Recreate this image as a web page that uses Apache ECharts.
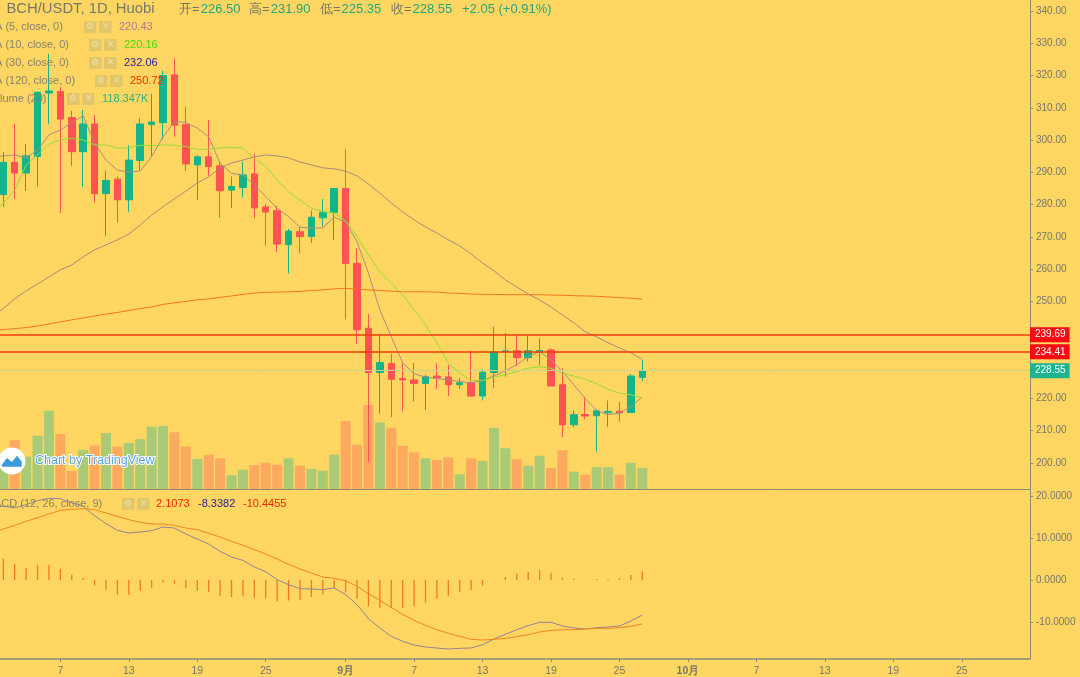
<!DOCTYPE html>
<html>
<head>
<meta charset="utf-8">
<style>
	html, body { margin: 0; padding: 0; background: #FED661; overflow: hidden; }
	#chart { width: 1080px; height: 677px; }
</style>
<script src="https://cdn.jsdelivr.net/npm/echarts@6/dist/echarts.min.js"></script>
</head>
<body>
<div id="chart"></div>
<script>
	// one row per day from 2 Aug: open, close, low, high
	let candles = [
		[283.1,293.1,279.3,296.3],[293.1,289.8,281.8,305],[289.8,295.1,284.2,298.8],[294.9,314.8,285.6,315],
		[314.6,315.2,305,326.7],[315,306.5,277.4,316.4],[307,296.4,292,309.1],[296.4,305,285.4,309.3],
		[305,283.4,280.7,307.8],[283.4,287.5,270.4,290.5],[287.9,281.5,274.5,288.7],[281.5,293.8,277.8,298.4],
		[293.7,305,290.7,306.8],[304.8,305.6,294.9,314.3],[305.4,320,300.2,321.4],[320.2,304.6,301,325.3],
		[304.8,292.6,290.4,310.2],[292.3,294.8,281.5,295.4],[294.8,291.8,288.9,306.2],[292,284.3,276,293.3],
		[284.5,285.6,279,288.7],[285.3,289.2,282.3,293.3],[289.5,279,275.9,295.7],[279.3,277.7,267.3,280.2],
		[278.1,267.8,265.4,279.6],[267.6,271.8,258.7,272.5],[271.6,270.1,264.9,273],[270.1,276.1,268.2,278.1],
		[275.9,277.7,273.2,281.7],[277.6,285,269,285.1],[285,261.8,244.5,297.1],[261.8,241.2,236.9,266.5],
		[241.7,228,200.1,246.1],[228,231.1,215.2,240],[230.8,225.9,214.2,233.8],[226.1,225.7,215.9,230.9],
		[225.7,224.6,219,230.9],[224.6,226.7,216.4,227.3],[226.9,226.3,222.8,230.9],[226.6,224.2,220.7,230.3],
		[224.2,224.8,222.8,226.2],[224.8,220.7,220.5,234.8],[220.7,228.1,219.3,229],[228,234.4,223.3,242.2],
		[234.4,234.7,226.7,240.2],[234.7,232.6,230,239.6],[232.6,234.7,231.4,239.3],[234.4,234.8,230.3,238.6],
		[235,223.8,223.8,235.5],[224.2,211.8,208,229.3],[211.8,214.9,211,216.2],[215,214.5,213.5,220.5],
		[214.6,216.1,203.5,216.6],[215.5,215.9,211.2,219.3],[216,215.5,212.8,218.9],[215.6,226.9,215.4,227.5],
		[226.5,228.55,225.35,231.9]
	];
	// the indicator lists start one day earlier, the lines run off the left edge
	let ma5 = [294.8,295.1,295.4,294.5,296.9,301.6,303.1,305.4,307.5,299.1,293.8,290.7,290.1,290.4,294.9,301,305.7,305.5,303.7,301,292.8,289.7,289.2,286.1,282.5,278.9,276.3,273,272.7,272.8,276.1,274.6,268.5,258.8,247.4,239.1,231,227.6,226.6,226.1,225.7,225.2,224.8,225.5,226.9,228.5,230.4,232.9,234.5,231.9,228.3,224.2,220,216.2,214.9,215.4,217.4,220.43];
	let ma10 = [276.5,280.5,284.5,292.3,295.4,298.8,300,300.6,300,298.5,298.5,297.5,297.6,298.4,298.3,298.5,298.4,298,297,297.2,297.6,297.8,297.5,294.4,291.8,287.6,284,281.4,278.9,277.8,277.4,275,270.1,264.4,259.2,255.7,252,247.4,242.7,237.2,230.9,227.9,225.5,225.5,226.5,227.3,228.3,229.3,229.8,229.3,227.8,226.9,225.9,224.5,222.8,221.6,221.1,220.16];
	let ma30 = [245.3,247.8,250.8,253.3,255.4,257.6,259.8,261.3,263.8,266,267.5,269.1,270.9,273.7,276.8,279.3,281.8,284.2,286.7,288.6,291.4,292.9,293.8,294.8,295.4,295.1,294.5,293.2,292.3,291.4,291.1,290.4,288.9,286.4,283.6,280.5,277.7,275.3,273.1,271.2,269.1,267.2,264.7,261.9,259.5,256.7,254.5,252.3,250.5,248.3,245.8,243.4,240.6,239,237.2,235.6,234.1,232.06];
	let ma120 = [241,241.3,241.6,241.9,242.4,243,243.7,244.3,244.9,245.5,246.1,246.6,247.2,247.8,248.3,249.1,249.6,250,250.5,250.8,251.3,251.7,252.2,252.6,252.8,252.9,253,253.1,253.4,253.6,253.9,254.1,253.8,253.6,253.4,253.2,253,253,253,252.9,252.6,252.5,252.3,252.2,252.2,252.1,252.1,252.1,252.1,252,251.9,251.8,251.7,251.6,251.4,251.2,251,250.72];
	// volume in K
	let volume = [118,205,136,224,329,231,76,164,182,235,178,193,209,262,265,238,178,126,144,129,58,81,100,110,102,129,98,84,77,144,286,186,353,280,257,182,154,129,122,133,62,129,118,257,171,125,98,140,88,163,73,60,92,92,60,110,88];
	let hist = [5.07,3.89,2.86,3.65,3.65,2.7,1.27,0.48,-1.35,-2.3,-3.5,-3.5,-2.54,-1.98,-0.55,-0.87,-1.98,-2.54,-2.94,-3.73,-4.05,-3.89,-4.29,-4.37,-5.08,-4.92,-4.68,-4.05,-3.41,-1.98,-2.94,-4.44,-6.27,-6.59,-6.75,-6.59,-6.27,-5.32,-4.44,-3.73,-2.78,-2.38,-1.35,0,0.71,1.5,1.9,2.38,1.74,0.55,0.32,0.05,0.24,0.24,0.4,1.19,2.11];
	let macd = [17.4,17.54,17.22,17.94,18.89,19.44,19.37,18.33,17.54,15.32,13.41,11.83,11.19,11.43,11.75,12.62,12.38,10.95,9.76,8.57,6.83,5.48,4.68,3.1,1.98,0.08,-1.11,-2.06,-2.14,-2.3,-1.9,-3.49,-5.87,-9.21,-11.43,-13.41,-14.6,-15.48,-15.95,-16.19,-16.43,-16.27,-16.19,-15.4,-14.05,-12.94,-11.83,-10.87,-10.08,-10.08,-10.95,-11.43,-11.67,-11.35,-11.19,-10.95,-9.76,-8.34];
	let signal = [11.2,12.14,13.02,13.97,14.84,15.71,16.59,16.83,16.98,16.75,15.95,15.16,14.37,13.73,13.33,13.33,13.02,12.38,11.98,11.11,10.24,9.21,8.25,7.22,6.19,5,3.73,2.62,1.67,0.71,0.4,-0.16,-1.51,-3.25,-4.84,-6.51,-8.17,-9.6,-10.79,-11.83,-12.7,-13.41,-14.13,-14.29,-14.13,-13.89,-13.49,-13.02,-12.38,-11.98,-11.83,-11.83,-11.67,-11.51,-11.51,-11.35,-11.03,-10.45];

	// tick label for day index (0 = 2 Aug)
	let dayLabels = {5:'7',11:'13',17:'19',23:'25',30:'{b|9月}',36:'7',42:'13',48:'19',54:'25',60:'{b|10月}',66:'7',72:'13',78:'19',84:'25'};
	let axisColor = '#8d8a74';
	let textColor = '#77766a';
	let font = '"Liberation Sans", sans-serif';
	let xMin = -0.29, xMax = 89.98;

	function fromDayBefore(arr) {
		return arr.map((v, i) => [i - 1, v]);
	}
	function lineSeries(name, arr, color, xi, yi) {
		return {
			name: name, type: 'line', data: fromDayBefore(arr), xAxisIndex: xi, yAxisIndex: yi,
			showSymbol: false, silent: true, smooth: false,
			lineStyle: { color: color, width: 1 }, z: 4
		};
	}
	function priceLine(val, lineColor, width, boxColor) {
		return {
			yAxis: val,
			lineStyle: { color: lineColor, width: width, type: 'solid' },
			label: {
				show: true, position: 'end', formatter: val.toFixed(2), distance: 0,
				color: '#fff', fontSize: 10, fontFamily: font, align: 'left', verticalAlign: 'middle',
				padding: [2, 4, 2, 5], lineHeight: 11, backgroundColor: boxColor
			}
		};
	}

	// legend rows and header are plain text on top of the plot
	function txt(x, y, text, color, size, extra) {
		return {
			type: 'text', x: x, y: y, z: 100,
			style: Object.assign({ text: text, fill: color, font: (size || 12) + 'px ' + font, textVerticalAlign: 'middle' }, extra || {})
		};
	}
	function iconBox(x, y) {
		return { type: 'rect', z: 99, shape: { x: x, y: y - 6, width: 12.5, height: 12, r: 1 }, style: { fill: 'rgba(190,180,120,0.45)' } };
	}
	function legendRow(y, labelX, label, ix, valX, val, valColor) {
		return [
			txt(labelX, y, label, '#85836c', 11),
			iconBox(ix, y), txt(ix + 2, y, '⚙', '#ece2a8', 9),
			iconBox(ix + 15, y), txt(ix + 17.5, y, '✕', '#ece2a8', 9),
			txt(valX, y, val, valColor, 11)
		];
	}

	let graphics = [
		txt(6.5, 9, 'BCH/USDT, 1D, Huobi', textColor, 14.8),
		txt(179, 9, '开=', textColor, 13), txt(200.7, 9, '226.50', '#22a67e', 13),
		txt(249, 9, '高=', textColor, 13), txt(270.7, 9, '231.90', '#22a67e', 13),
		txt(320, 9, '低=', textColor, 13), txt(341.5, 9, '225.35', '#22a67e', 13),
		txt(391, 9, '收=', textColor, 13), txt(412.5, 9, '228.55', '#22a67e', 13),
		txt(462, 9, '+2.05 (+0.91%)', '#22a67e', 13),
		...legendRow(27, -5, 'A (5, close, 0)', 84, 119, '220.43', '#b0789c'),
		...legendRow(45, -5, 'A (10, close, 0)', 89, 124, '220.16', '#3fe000'),
		...legendRow(63, -5, 'A (30, close, 0)', 89, 124, '232.06', '#2a1a9a'),
		...legendRow(81, -5, 'A (120, close, 0)', 95, 130, '250.72', '#f03000'),
		...legendRow(99, 0, 'lume (20)', 67, 102, '118.347K', '#2fb27e'),
		...legendRow(504, -6, 'ACD (12, 26, close, 9)', 122, 156, '2.1073', '#f02800'),
		txt(198, 504, '-8.3382', '#2a1a9a', 11),
		txt(243, 504, '-10.4455', '#f02800', 11),
		// TradingView mark
		{ type: 'circle', z: 99, shape: { cx: 12, cy: 461, r: 13.5 }, style: { fill: '#fff' } },
		{ type: 'polyline', z: 100, shape: { points: [[2,466],[7,459],[12,463],[17,457],[21,462],[21,466],[2,466]] }, style: { fill: '#3a9be0', stroke: '#3a9be0', lineWidth: 1.5 } },
		txt(35, 461, 'Chart by TradingView', '#5aa6e4', 12.5, { stroke: '#fff', lineWidth: 2 })
	];

	let option = {
		backgroundColor: '#FED661',
		animation: false,
		grid: [
			{ left: 0, right: 50, top: 0, height: 489 },
			{ left: 0, right: 50, top: 490, height: 169 }
		],
		xAxis: [
			{
				type: 'value', gridIndex: 0, min: xMin, max: xMax, splitLine: { show: false },
				axisLine: { show: true, onZero: false, lineStyle: { color: axisColor } },
				axisTick: { show: false }, axisLabel: { show: false }
			},
			{
				type: 'value', gridIndex: 1, min: xMin, max: xMax, splitLine: { show: false },
				axisLine: { show: true, onZero: false, lineStyle: { color: '#a39d78', width: 2 } },
				axisTick: { show: true, length: 3, customValues: Object.keys(dayLabels).map(Number), lineStyle: { color: axisColor } },
				axisLabel: {
					show: true, customValues: Object.keys(dayLabels).map(Number), margin: 7, color: textColor,
					fontSize: 10.5, fontFamily: font,
					formatter: v => dayLabels[v] || '',
					rich: { b: { fontWeight: 'bold', color: textColor, fontSize: 10.5, fontFamily: font } }
				}
			}
		],
		yAxis: [
			{
				type: 'value', gridIndex: 0, position: 'right', min: 191.9, max: 343.4, splitLine: { show: false },
				axisLine: { show: true, onZero: false, lineStyle: { color: axisColor } },
				axisTick: { show: true, length: 3, customValues: [200,210,220,250,260,270,280,290,300,310,320,330,340], lineStyle: { color: axisColor } },
				axisLabel: {
					customValues: [200,210,220,250,260,270,280,290,300,310,320,330,340], margin: 6,
					color: textColor, fontSize: 10, fontFamily: font, formatter: v => v.toFixed(2)
				}
			},
			{ type: 'value', gridIndex: 0, min: 0, max: 2054, show: false, splitLine: { show: false } },
			{
				type: 'value', gridIndex: 1, position: 'right', min: -18.81, max: 21.43, splitLine: { show: false },
				axisLine: { show: true, onZero: false, lineStyle: { color: axisColor } },
				axisTick: { show: true, length: 3, customValues: [-10,0,10,20], lineStyle: { color: axisColor } },
				axisLabel: {
					customValues: [-10,0,10,20], margin: 6, color: textColor, fontSize: 10, fontFamily: font,
					formatter: v => v.toFixed(4)
				}
			}
		],
		series: [
			{
				name: 'Volume', type: 'bar', xAxisIndex: 0, yAxisIndex: 1, barWidth: 10, z: 1, silent: true,
				data: volume.map((v, i) => ({
					value: [i, v],
					itemStyle: { color: candles[i][1] >= candles[i][0] ? '#ABCA76' : '#FDA95F' }
				}))
			},
			{
				name: 'BCH/USDT', type: 'candlestick', xAxisIndex: 0, yAxisIndex: 0, barWidth: 7, z: 3,
				data: candles.map((c, i) => [i, c[0], c[1], c[2], c[3]]),
				itemStyle: { color: '#13B48A', color0: '#FF5252', borderColor: '#13B48A', borderColor0: '#FF5252', borderWidth: 1 },
				markLine: {
					silent: true, symbol: ['none', 'none'], animation: false,
					data: [
						priceLine(228.55, '#CDD38A', 1, '#1CB58F'),
						priceLine(234.41, '#F23A0C', 1.5, '#FF0A14'),
						priceLine(239.69, '#F23A0C', 1.5, '#FF0A14')
					]
				}
			},
			lineSeries('MA5', ma5, '#AD8C80', 0, 0),
			lineSeries('MA10', ma10, '#96DC37', 0, 0),
			lineSeries('MA30', ma30, '#A88A80', 0, 0),
			lineSeries('MA120', ma120, '#F2771F', 0, 0),
			{
				name: 'Histogram', type: 'bar', xAxisIndex: 1, yAxisIndex: 2, barWidth: 1.3, silent: true,
				data: hist.map((v, i) => [i, v]), itemStyle: { color: '#F0792A' }
			},
			lineSeries('MACD', macd, '#94829A', 1, 2),
			lineSeries('Signal', signal, '#F2861F', 1, 2)
		],
		graphic: graphics
	};

	let myChart = echarts.init(document.getElementById('chart'));
	myChart.setOption(option);
</script>
</body>
</html>
